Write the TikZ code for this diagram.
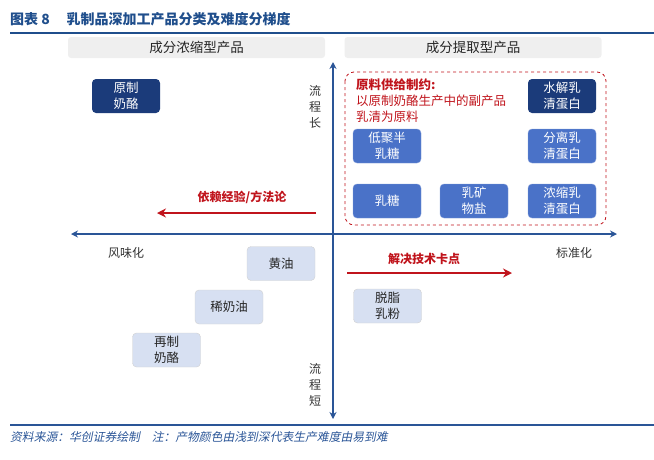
\documentclass[tikz,border=0pt]{standalone}
\usepackage{fontspec}
\setmainfont{Noto Sans CJK SC}
\newfontfamily\cjkit[FakeSlant=0.2]{Noto Sans CJK SC}
\usetikzlibrary{arrows.meta}
\definecolor{axisblue}{HTML}{2A5597}
\definecolor{titleblue}{HTML}{1F4E8C}
\definecolor{darkbox}{HTML}{1B3B7A}
\definecolor{midbox}{HTML}{4A72C8}
\definecolor{lightbox}{HTML}{D7E0F2}
\definecolor{hdrgray}{HTML}{EFEFEF}
\definecolor{redc}{HTML}{C0141C}
\tikzset{
  prod/.style={rounded corners=4pt, minimum width=68pt, minimum height=34pt, align=center, inner sep=0pt, font=\fontsize{12.5}{16}\selectfont},
  dark/.style={prod, fill=darkbox, text=white},
  mid/.style={prod, fill=midbox, text=white, draw=midbox!70!white},
  light/.style={prod, fill=lightbox, draw=black!18, text=black!85},
  hdr/.style={rounded corners=3pt, fill=hdrgray, minimum width=257pt, minimum height=21pt, inner sep=0pt, font=\fontsize{13.5}{15}\selectfont, text=black!85},
  axis/.style={draw=axisblue, line width=1.4pt, {Stealth[length=7pt,width=7pt]}-{Stealth[length=7pt,width=7pt]}},
  redarrow/.style={draw=redc, line width=2pt, -{Stealth[length=9pt,width=9pt]}},
  lbl/.style={font=\fontsize{12}{16}\selectfont, text=black!80, align=center, inner sep=0pt},
  redlbl/.style={font=\bfseries\fontsize{12}{14}\selectfont, text=redc, inner sep=0pt},
}
\begin{document}
\begin{tikzpicture}[x=1pt,y=-1pt]
\useasboundingbox (0,0) rectangle (654,459);
% title
\node[anchor=west, inner sep=0pt, font=\bfseries\fontsize{14}{16}\selectfont, text=titleblue] (title) at (10,19) {图表 8\hspace{1.2em}乳制品深加工产品分类及难度分梯度};
\draw[titleblue, line width=1.6pt] (10,33) -- (654,33);
% headers
\node[hdr] (h1) at (196.5,47.5) {成分浓缩型产品};
\node[hdr] (h2) at (473,47.5) {成分提取型产品};
% axes
\coordinate (vt) at (333,62);
\coordinate (vb) at (333,419);
\coordinate (hl) at (71,234);
\coordinate (hr) at (617,234);
\draw[axis] (vt) -- (vb);
\draw[axis] (hl) -- (hr);
% dashed region
\draw[redc, dashed, line width=0.8pt, rounded corners=9pt] (345,72) rectangle (606,225);
\node[anchor=north west, inner sep=0pt, align=left, text=redc, font=\fontsize{12.5}{16}\selectfont] (note) at (356,79) {\textbf{原料供给制约:}\\以原制奶酪生产中的副产品\\乳清为原料};
% nodes
\node[dark] (ycnl) at (126,96) {原制\\奶酪};
\node[dark] (sjrq) at (562,96) {水解乳\\清蛋白};
\node[mid] (djbrt) at (387,146) {低聚半\\乳糖};
\node[mid] (flrq) at (562,146) {分离乳\\清蛋白};
\node[mid] (rt) at (387,201) {乳糖};
\node[mid] (rkwy) at (474,201) {乳矿\\物盐};
\node[mid] (nsrq) at (562,201) {浓缩乳\\清蛋白};
\node[light] (hy) at (281,263.5) {黄油};
\node[light] (xny) at (229,307) {稀奶油};
\node[light] (zznl) at (166.5,350) {再制\\奶酪};
\node[light] (tzrf) at (387.5,306) {脱脂\\乳粉};
% axis labels
\node[lbl] (lcc) at (315,107) {流\\程\\长};
\node[lbl] (lcd) at (315,385) {流\\程\\短};
\node[lbl] (fwh) at (126,253) {风味化};
\node[lbl] (bzh) at (574,253) {标准化};
% red arrows
\node[redlbl] (yljy) at (242,197) {依赖经验/方法论};
\coordinate (ra1s) at (316,213);
\coordinate (ra1e) at (157,213);
\draw[redarrow] (ra1s) -- (ra1e);
\node[redlbl] (jjjs) at (424,259) {解决技术卡点};
\coordinate (ra2s) at (347,273);
\coordinate (ra2e) at (512,273);
\draw[redarrow] (ra2s) -- (ra2e);
% bottom
\draw[axisblue, line width=1.2pt] (10,425) -- (654,425);
\node[anchor=west, inner sep=0pt, text=axisblue, font=\cjkit\fontsize{11.8}{13}\selectfont] (src) at (10,437) {资料来源：华创证券绘制\hspace{1em}注：产物颜色由浅到深代表生产难度由易到难};
\end{tikzpicture}
\end{document}
